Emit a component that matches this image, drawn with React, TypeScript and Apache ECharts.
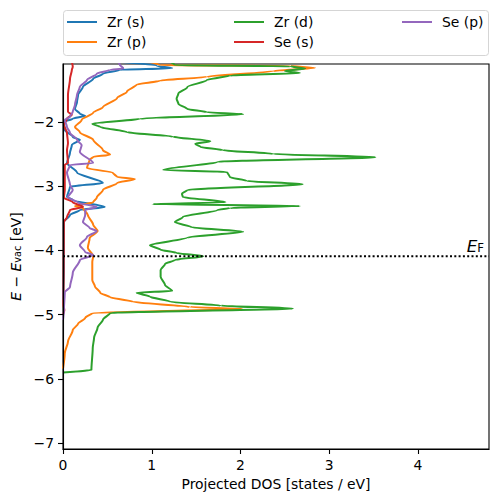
import React, { useEffect, useRef } from 'react';
import * as echarts from 'echarts';

// [DOS, energy] pairs, ordered from high energy to low energy
const zrS: [number, number][] = [
  [0.64, -1.065], [1.06, -1.13], [1.23, -1.165], [0.64, -1.19], [0.45, -1.25], [0.34, -1.33], [0.225, -1.455],
  [0.17, -1.58], [0.158, -1.69], [0.135, -1.8], [0.19, -1.875], [0.25, -1.907], [0.11, -1.95], [0.01, -2.0],
  [0.02, -2.125], [0.11, -2.234], [0.19, -2.28], [0.1, -2.36], [0.079, -2.48], [0.045, -2.64],
  [0.158, -2.79], [0.45, -2.95], [0.079, -3.01], [0.045, -3.17], [0.11, -3.215], [0.47, -3.324],
  [0.19, -3.37], [0.079, -3.45], [0.01, -3.56], [0.01, -4.3], [0, -4.77],
];
const zrP: [number, number][] = [
  [0.98, -1.065], [1.09, -1.12], [2.56, -1.13], [2.84, -1.16], [2.37, -1.21], [1.62, -1.3],
  [1.09, -1.36], [0.83, -1.42], [0.72, -1.53], [0.61, -1.63], [0.45, -1.77], [0.34, -1.86],
  [0.21, -1.97], [0.135, -2.08], [0.19, -2.16], [0.34, -2.28], [0.45, -2.44], [0.53, -2.51],
  [0.34, -2.545], [0.3, -2.59], [0.27, -2.72], [0.56, -2.79], [0.61, -2.86], [0.81, -2.89],
  [0.61, -2.95], [0.45, -3.06], [0.38, -3.18], [0.34, -3.25], [0.135, -3.31], [0.225, -3.34],
  [0.28, -3.45], [0.34, -3.6], [0.39, -3.7], [0.3, -3.81], [0.28, -3.96], [0.34, -4.09],
  [0.33, -4.18], [0.33, -4.46], [0.36, -4.56], [0.42, -4.66], [0.53, -4.73], [0.79, -4.8],
  [1.43, -4.88], [2.02, -4.91], [0.33, -4.975], [0.25, -5.05], [0.17, -5.14], [0.11, -5.24],
  [0.056, -5.42], [0.02, -5.6], [0, -5.84],
];
const zrD: [number, number][] = [
  [1.21, -1.065], [1.26, -1.12], [2.56, -1.135], [2.73, -1.17], [2.5, -1.21], [2.67, -1.24],
  [1.88, -1.28], [1.62, -1.35], [1.4, -1.46], [1.3, -1.56], [1.28, -1.64], [1.3, -1.72],
  [1.4, -1.8], [1.62, -1.85], [2.03, -1.88], [0.87, -1.95], [0.33, -2.03], [0.42, -2.08],
  [0.72, -2.16], [1.24, -2.23], [1.66, -2.3], [1.49, -2.34], [1.55, -2.39], [1.8, -2.44],
  [2.37, -2.5], [3.52, -2.55], [1.74, -2.62], [1.13, -2.75], [1.85, -2.78], [1.88, -2.86],
  [2.07, -2.92], [2.7, -2.97], [1.4, -3.06], [1.34, -3.12], [1.35, -3.17], [1.83, -3.25], [1.01, -3.28],
  [2.67, -3.31], [1.88, -3.34], [1.74, -3.37], [1.35, -3.48], [1.26, -3.56], [1.45, -3.64], [2.03, -3.71],
  [1.4, -3.8], [0.98, -3.92], [1.1, -3.99], [1.28, -4.04], [1.58, -4.09], [1.26, -4.15],
  [1.15, -4.21], [1.1, -4.305], [1.1, -4.41], [1.15, -4.54], [1.23, -4.63], [0.83, -4.66],
  [0.98, -4.72], [1.21, -4.8], [1.78, -4.86], [2.59, -4.905], [0.53, -4.975], [0.45, -5.08],
  [0.39, -5.2], [0.35, -5.36], [0.335, -5.52], [0.32, -5.86], [0, -5.9],
];
const seS: [number, number][] = [
  [0.1, -1.065], [0.11, -1.143], [0.1, -1.19], [0.079, -1.33], [0.056, -1.58], [0.056, -1.844],
  [0.1, -1.89], [0.045, -1.95], [0.01, -2.05], [0.045, -2.17], [0.056, -2.33], [0.045, -2.44],
  [0.056, -2.64], [0.02, -2.67], [0.02, -3.06], [0.01, -3.18], [0.11, -3.25], [0.225, -3.324],
  [0.079, -3.37], [0.045, -3.48], [0.01, -3.56], [0.005, -4.85], [0.015, -4.93], [0, -5.0],
];
const seP: [number, number][] = [
  [0.62, -1.065], [0.64, -1.11], [0.68, -1.17], [0.53, -1.19], [0.38, -1.25], [0.27, -1.35],
  [0.19, -1.455], [0.158, -1.58], [0.135, -1.735], [0.11, -1.844], [0.079, -1.92], [0.02, -1.97],
  [0.045, -2.08], [0.079, -2.17], [0.158, -2.28], [0.21, -2.36], [0.19, -2.47], [0.34, -2.64],
  [0.079, -2.67], [0.045, -2.79], [0.079, -2.98], [0.11, -3.06], [0.056, -3.17], [0.17, -3.26],
  [0.38, -3.324], [0.25, -3.37], [0.25, -3.45], [0.225, -3.56], [0.3, -3.65], [0.38, -3.7],
  [0.27, -3.79], [0.19, -3.92], [0.25, -4.025], [0.34, -4.07], [0.19, -4.15], [0.11, -4.35],
  [0.079, -4.57], [0.02, -4.65], [0.01, -4.93], [0, -5.08],
];

const seriesNames = ['Zr (s)', 'Zr (p)', 'Zr (d)', 'Se (s)', 'Se (p)'];
const seriesColors = ['#1f77b4', '#ff7f0e', '#2ca02c', '#d62728', '#9467bd'];
const seriesData = [zrS, zrP, zrD, seS, seP];

const fermiLevel = -4.09;
const xMin = 0;
const xMax = 4.8;
const yMin = -7.09;
const yMax = -1.1;
const xTicks = [0, 1, 2, 3, 4];
const yTicks = [-7, -6, -5, -4, -3, -2];

const FONT = 'DejaVu Sans';
const FS = 13.9;

export default function App() {
  const ref = useRef<HTMLDivElement>(null);
  useEffect(() => {
    if (!ref.current) return;
    const chart = echarts.init(ref.current, undefined, { renderer: 'svg' });

    const legendPos: { name: string; left: number; top: number }[] = [
      { name: 'Zr (s)', left: 67, top: 14 },
      { name: 'Zr (p)', left: 67, top: 34 },
      { name: 'Zr (d)', left: 234, top: 14 },
      { name: 'Se (s)', left: 234, top: 34 },
      { name: 'Se (p)', left: 402, top: 14 },
    ];

    const axisCommon = {
      z: 10,
      axisLine: { show: true, onZero: false, lineStyle: { color: '#000', width: 1.1 } },
      axisTick: { show: true, inside: false, length: 5, lineStyle: { color: '#000', width: 1.1 } },
      splitLine: { show: false },
    };

    const option: any = {
      animation: false,
      backgroundColor: '#fff',
      textStyle: { fontFamily: FONT },
      grid: {
        left: 63, top: 64, right: 9, bottom: 53,
        show: true, borderColor: '#000', borderWidth: 1.1, backgroundColor: 'transparent',
      },
      legend: legendPos.map((l) => ({
        data: [l.name],
        left: l.left,
        top: l.top,
        padding: 0,
        icon: 'rect',
        itemWidth: 30,
        itemHeight: 2,
        selectedMode: false,
        textStyle: { fontFamily: FONT, fontSize: FS, color: '#000', padding: [0, 0, 0, 5], lineHeight: 16 },
      })),
      xAxis: {
        type: 'value',
        min: xMin,
        max: xMax,
        ...axisCommon,
        axisTick: { ...axisCommon.axisTick, customValues: xTicks },
        axisLabel: {
          customValues: xTicks,
          margin: 9,
          fontFamily: FONT,
          fontSize: FS,
          color: '#000',
          formatter: (v: number) => String(v),
        },
        name: 'Projected DOS [states / eV]',
        nameLocation: 'middle',
        nameGap: 28,
        nameTextStyle: { fontFamily: FONT, fontSize: FS, color: '#000' },
      },
      yAxis: {
        type: 'value',
        min: yMin,
        max: yMax,
        ...axisCommon,
        axisTick: { ...axisCommon.axisTick, customValues: yTicks },
        axisLabel: {
          customValues: yTicks,
          margin: 9,
          fontFamily: FONT,
          fontSize: FS,
          color: '#000',
          formatter: (v: number) => (v < 0 ? '\u2212' + Math.abs(v) : String(v)),
        },
        name: '{i|E} \u2212 {i|E}{s|vac} [eV]',
        nameLocation: 'middle',
        nameRotate: 90,
        nameGap: 36,
        nameTextStyle: {
          fontFamily: FONT,
          fontSize: FS,
          color: '#000',
          rich: {
            i: { fontFamily: FONT, fontSize: FS, fontStyle: 'italic', color: '#000' },
            s: { fontFamily: FONT, fontSize: 9.7, color: '#000', verticalAlign: 'bottom', lineHeight: 4 },
          },
        },
      },
      series: [
        ...seriesData.map((d, i) => ({
          name: seriesNames[i],
          type: 'line',
          data: d,
          showSymbol: false,
          symbol: 'none',
          smooth: 0.25,
          smoothMonotone: 'y',
          color: seriesColors[i],
          lineStyle: { color: seriesColors[i], width: 2 },
          clip: true,
          z: 2 + i,
        })),
        {
          name: 'EF',
          type: 'line',
          data: [[xMin, fermiLevel], [xMax, fermiLevel]],
          showSymbol: false,
          symbol: 'none',
          lineStyle: { color: '#000', width: 2, type: [2, 2.3] },
          z: 10,
        },
      ],
      graphic: [
        {
          type: 'rect',
          shape: { x: 63.5, y: 10.5, width: 425, height: 45, r: 3 },
          style: { fill: 'rgba(255,255,255,0.8)', stroke: '#d5d5d5', lineWidth: 1 },
          z: -1,
          silent: true,
        },
        {
          type: 'text',
          x: 484,
          y: 254,
          style: {
            text: '{e|E}{f|F}',
            align: 'right',
            verticalAlign: 'bottom',
            rich: {
              e: { fontFamily: FONT, fontSize: 16.7, fontStyle: 'italic', fill: '#000' },
              f: { fontFamily: FONT, fontSize: 11.7, fill: '#000', verticalAlign: 'bottom', lineHeight: 6 },
            },
          },
          z: 20,
        },
      ],
    };

    chart.setOption(option);
    return () => chart.dispose();
  }, []);

  return (
    <div
      ref={ref}
      style={{ position: 'fixed', left: 0, top: 0, width: 498, height: 502, background: '#fff' }}
    />
  );
}
